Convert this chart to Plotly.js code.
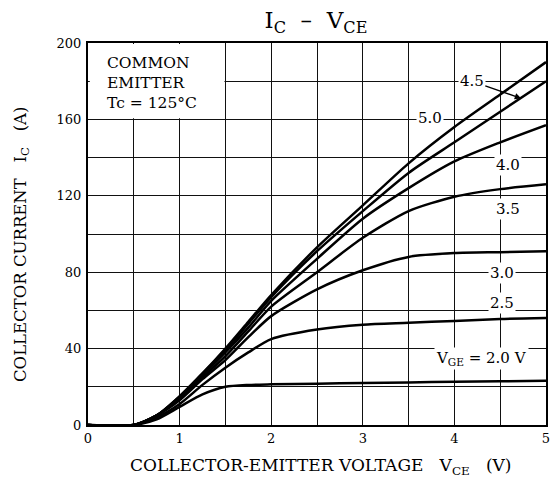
<!DOCTYPE html>
<html>
<head>
<meta charset="utf-8">
<script src="https://cdn.plot.ly/plotly-3.0.1.min.js"></script>
<style>
html,body{margin:0;padding:0;background:#fff;}
#chart{width:557px;height:492px;}
</style>
</head>
<body>
<div id="chart"></div>
<script>
// Collector-emitter voltage (V)
const vce = [0, 0.5, 0.75, 1.0, 1.25, 1.5, 1.75, 2.0, 2.5, 3.0, 3.5, 4.0, 4.5, 5.0];
// Collector current (A) for each gate-emitter voltage
const ic50 = [0, 0, 5, 15, 27, 40, 54, 68, 93, 115, 137, 156, 173, 190];
const ic45 = [0, 0, 5, 15, 27, 39, 53, 67, 91, 112, 132, 148, 164, 180];
const ic40 = [0, 0, 5, 14, 26, 38, 51, 65, 87, 108, 124, 138, 148, 157];
const ic35 = [0, 0, 5, 14, 25, 36, 49, 62, 80, 98, 112, 119.5, 123.5, 126];
const ic30 = [0, 0, 5, 13, 24, 34, 46, 57, 71, 81, 88, 90, 90.5, 91];
const ic25 = [0, 0, 4, 11, 21, 30, 38, 45, 50, 52.5, 53.5, 54.5, 55.5, 56];
const ic20 = [0, 0, 3, 9.5, 16, 20, 21, 21.3, 21.6, 22, 22.3, 22.6, 22.9, 23.2];

const seriesNames = ['5.0', '4.5', '4.0', '3.5', '3.0', '2.5', '2.0'];
const seriesVals = [ic50, ic45, ic40, ic35, ic30, ic25, ic20];

const xTickVals = [0, 1, 2, 3, 4, 5];
const xTickText = ['0', '1', '2', '3', '4', '5'];
const yTickVals = [0, 40, 80, 120, 160, 200];
const yTickText = ['0', '40', '80', '120', '160', '200'];

const FONT = 'DejaVu Serif, Liberation Serif, serif';
const NB = '\u00a0';

const traces = seriesVals.map((v, i) => ({
  x: vce, y: v, type: 'scatter', mode: 'lines', name: 'VGE=' + seriesNames[i],
  line: {color: '#000', width: 2.5, shape: 'spline', smoothing: 0.7},
  hoverinfo: 'skip', showlegend: false
}));

const lbl = (x, y, t) => ({
  x: x, y: y, xref: 'x', yref: 'y', text: t, showarrow: false,
  font: {family: FONT, size: 15, color: '#000'}, bgcolor: '#fff', borderpad: 1
});

const layout = {
  width: 557, height: 492,
  margin: {l: 88, r: 11, t: 43, b: 67},
  paper_bgcolor: '#fff', plot_bgcolor: '#fff',
  font: {family: FONT, color: '#000', size: 13},
  title: {
    text: 'I<sub>C</sub>' + NB + NB + '\u2013' + NB + NB + 'V<sub>CE</sub>',
    font: {family: FONT, size: 23, color: '#000'},
    x: 316 / 557, xanchor: 'center', y: 1 - 20 / 492, yanchor: 'middle'
  },
  xaxis: {
    range: [0, 5], tickvals: xTickVals, ticktext: xTickText, ticks: '',
    showgrid: true, gridcolor: '#111', gridwidth: 1,
    minor: {dtick: 0.5, tick0: 0, showgrid: true, gridcolor: '#111', gridwidth: 1, ticks: ''},
    showline: true, linecolor: '#000', linewidth: 2, mirror: true, zeroline: false,
    tickfont: {family: FONT, size: 13, color: '#000'}, fixedrange: true
  },
  yaxis: {
    range: [0, 200], tickvals: yTickVals, ticktext: yTickText, ticks: '',
    showgrid: true, gridcolor: '#111', gridwidth: 1,
    minor: {dtick: 20, tick0: 0, showgrid: true, gridcolor: '#111', gridwidth: 1, ticks: ''},
    showline: true, linecolor: '#000', linewidth: 2, mirror: true, zeroline: false,
    tickfont: {family: FONT, size: 13, color: '#000'}, ticklabelstandoff: 2, fixedrange: true
  },
  shapes: [
    {type: 'rect', xref: 'x', yref: 'y', x0: 0.02, x1: 1.49, y0: 160.6, y1: 199.5,
     fillcolor: '#fff', line: {width: 0}, layer: 'between'}
  ],
  annotations: [
    {x: 0.19, y: 179, xref: 'x', yref: 'y', xanchor: 'left', yanchor: 'middle', align: 'left',
     text: 'COMMON<br>EMITTER<br>Tc = 125\u00b0C', showarrow: false,
     font: {family: FONT, size: 15.5, color: '#000'}},
    {x: 4.73, y: 171, xref: 'x', yref: 'y', ax: 4.19, ay: 180, axref: 'x', ayref: 'y',
     text: '4.5', showarrow: true, arrowhead: 2, arrowsize: 1, arrowwidth: 1.3, arrowcolor: '#000',
     font: {family: FONT, size: 15, color: '#000'}, bgcolor: '#fff', borderpad: 1},
    lbl(3.73, 160.5, '5.0'),
    lbl(4.58, 136, '4.0'),
    lbl(4.58, 113, '3.5'),
    lbl(4.52, 79.5, '3.0'),
    lbl(4.52, 64, '2.5'),
    lbl(4.3, 35, 'V<sub>GE</sub> = 2.0 V'),
    {x: (21 - 88) / 458, y: (425 - 245) / 382, xref: 'paper', yref: 'paper',
     xanchor: 'center', yanchor: 'middle',
     text: 'COLLECTOR CURRENT' + NB + NB + NB + 'I<sub>C</sub>' + NB + NB + NB + '(A)',
     textangle: -90, showarrow: false, font: {family: FONT, size: 16.5, color: '#000'}},
    {x: (320 - 88) / 458, y: (425 - 466) / 382, xref: 'paper', yref: 'paper',
     xanchor: 'center', yanchor: 'middle',
     text: 'COLLECTOR-EMITTER VOLTAGE' + NB + NB + NB + 'V<sub>CE</sub>' + NB + NB + NB + '(V)',
     showarrow: false, font: {family: FONT, size: 17, color: '#000'}}
  ]
};

Plotly.newPlot('chart', traces, layout, {displayModeBar: false, staticPlot: true});
</script>
</body>
</html>
